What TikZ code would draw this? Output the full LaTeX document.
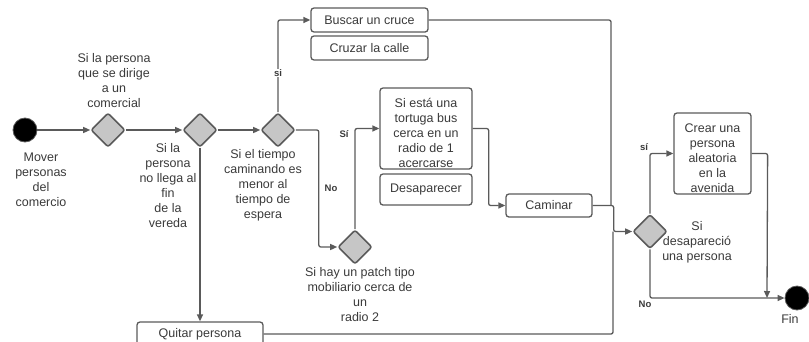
\documentclass[tikz,border=0pt]{standalone}
\usepackage{fontspec}
\setmainfont{Liberation Sans}
\usetikzlibrary{arrows.meta,shapes.geometric}
\definecolor{ln}{HTML}{5A5A5A}
\definecolor{tx}{HTML}{3A3A3A}
\definecolor{dfill}{HTML}{C6C6C6}
\begin{document}
\begin{tikzpicture}[x=1pt,y=-1pt,
  every node/.style={text=tx,font=\fontsize{12.5}{15}\selectfont},
  conn/.style={draw=ln,line width=1.3pt,rounded corners=2pt},
  arr/.style={conn,-{Triangle[length=7pt,width=6pt]}},
  dec/.style={diamond,draw=ln,fill=dfill,line width=1.6pt,minimum width=34pt,minimum height=34pt,inner sep=0pt,rounded corners=2pt},
  actbox/.style={draw=ln,line width=1.3pt,rounded corners=3pt,inner sep=0pt,align=center},
  txt/.style={align=center,inner sep=0pt},
  lab/.style={font=\fontsize{9.5}{11}\bfseries\selectfont,inner sep=1pt},
  term/.style={circle,fill=black,draw=ln,line width=0.8pt,minimum size=24pt,inner sep=0pt}]
\useasboundingbox (0,0) rectangle (809,341);
% nodes
\node[term] (start) at (25,130) {};
\node[txt] (startl) at (41,180) {Mover\\personas\\del\\comercio};
\node[dec] (d1) at (108,130) {};
\node[txt] (d1l) at (114,81) {Si la persona\\que se dirige\\a un\\comercial};
\node[dec] (d2) at (200,130) {};
\node[txt] (d2l) at (168,186) {Si la\\persona\\no llega al\\fin\\de la\\vereda};
\node[dec] (d3) at (278,130) {};
\node[txt] (d3l) at (263,185) {Si el tiempo\\caminando es\\menor al\\tiempo de\\espera};
\node[actbox,minimum width=117pt,minimum height=24pt] (buscar) at (369.5,20) {Buscar un cruce};
\node[actbox,minimum width=117pt,minimum height=24pt] (cruzar) at (369.5,48) {Cruzar la calle};
\node[dec] (d5) at (355,247) {};
\node[txt] (d5l) at (360,295) {Si hay un patch tipo\\mobiliario cerca de\\un\\radio 2};
\node[actbox,minimum width=92pt,minimum height=81pt] (sieta) at (426,128.5) {};
\node[txt] (sietat) at (426,133) {Si está una\\tortuga bus\\cerca en un\\radio de 1\\acercarse};
\node[actbox,minimum width=92pt,minimum height=31pt] (desap) at (426,189.5) {Desaparecer};
\node[actbox,minimum width=86pt,minimum height=23pt] (caminar) at (549,205.5) {Caminar};
\node[actbox,minimum width=126pt,minimum height=24pt] (quitar) at (200,334) {Quitar persona};
\node[dec] (d4) at (650,231.5) {};
\node[txt] (d4l) at (697,242) {Si\\desapareció\\una persona};
\node[actbox,minimum width=77pt,minimum height=81pt] (crear) at (712.5,153.5) {};
\node[txt] (creart) at (712.5,158) {Crear una\\persona\\aleatoria\\en la\\avenida};
\node[term] (fin) at (797,298) {};
\node[txt] (finl) at (790,319) {Fin};
\coordinate (j1) at (611,205.5);
\coordinate (j2) at (613,231.5);
\coordinate (j3) at (767,298);
% connectors
\draw[arr] (start) -- (d1);
\draw[arr] (d1) -- (d2);
\draw[arr] (d2) -- (d3);
\draw[arr] (d3.north) |- (buscar.west);
\node[lab,fill=white] (si1) at (278,73) {si};
\draw[arr] (d3.east) -- ++(23,0) |- (d5.west);
\node[lab] (no1) at (331,188) {No};
\draw[arr] (d5.north) |- (sieta.west);
\node[lab] (si2) at (344,134) {Sí};
\draw[arr] (sieta.east) -- ++(16,0) |- (caminar.west);
\draw[conn] (buscar.east) -| (j1);
\draw[arr] (caminar.east) -- ++(21,0) |- (d4.west);
\draw[conn] (quitar.east) -| (j2);
\draw[arr] (d2.south) -- (quitar.north);
\draw[arr] (d4.north) |- (crear.west);
\node[lab] (si3) at (644,147) {sí};
\draw[arr] (crear.east) -- ++(16,0) -- (j3);
\draw[arr] (d4.south) |- (fin.west);
\node[lab] (no2) at (645,304) {No};
\end{tikzpicture}
\end{document}
